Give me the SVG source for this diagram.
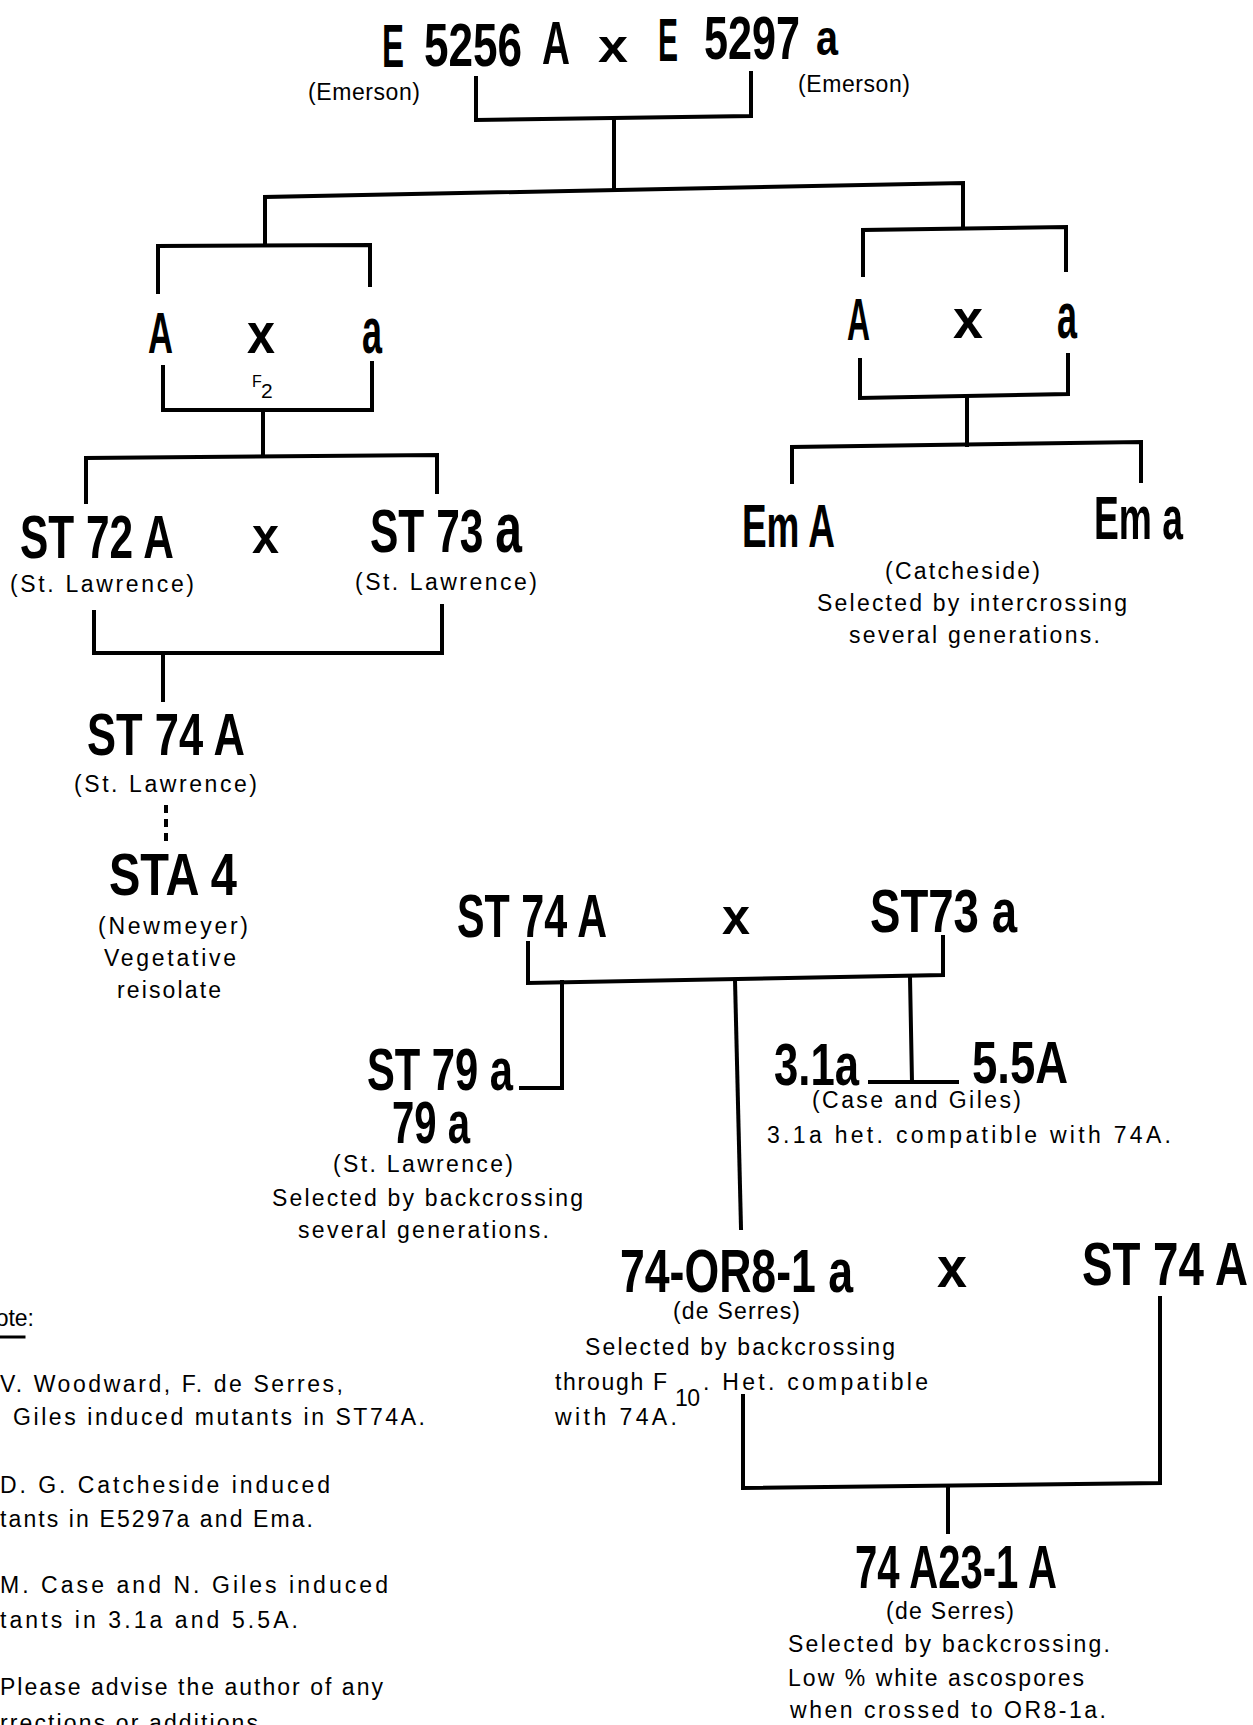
<svg xmlns="http://www.w3.org/2000/svg" width="1253" height="1725" viewBox="0 0 1253 1725">
<style>
.big{font-family:"Liberation Sans Narrow","Liberation Sans",Arial,sans-serif;font-weight:bold;font-size:62px;fill:#000}
.sm{font-family:"Liberation Sans",Arial,sans-serif;font-size:23px;fill:#000}
.ln{fill:none;stroke:#000;stroke-width:4;stroke-linecap:square;stroke-linejoin:miter}
.dot{fill:none;stroke:#000;stroke-width:4;stroke-dasharray:8 6}
</style>
<rect width="1253" height="1725" fill="#fff"/>
<g id="connectors">
<path class="ln" d="M476,78 V120 L751,116 V73"/>
<path class="ln" d="M614,119 V190"/>
<path class="ln" d="M265,244 V197 L963,183 V227"/>
<path class="ln" d="M158,292 V246 L370,245 V285"/>
<path class="ln" d="M863,275 V230 L1066,227 V270"/>
<path class="ln" d="M163,367 V410 H372 V363"/>
<path class="ln" d="M263,410 V455"/>
<path class="ln" d="M86,502 V458 L437,455 V492"/>
<path class="ln" d="M860,360 V398 L1068,394 V355"/>
<path class="ln" d="M967,396 V445"/>
<path class="ln" d="M792,482 V447 L1141,442 V481"/>
<path class="ln" d="M94,612 V653 H442 V606"/>
<path class="ln" d="M163,653 V700"/>
<path class="dot" d="M166,805 V845"/>
<path class="ln" d="M528,943 V983 L943,975 V937"/>
<path class="ln" d="M562,982 V1088 H521"/>
<path class="ln" d="M735,980 L741,1228"/>
<path class="ln" d="M910,977 L912,1082"/>
<path class="ln" d="M870,1082 H957"/>
<path class="ln" d="M743,1396 V1488 L1160,1483 V1298"/>
<path class="ln" d="M948,1487 V1532"/>
</g>
<g id="node-parents">
<text class="big" x="382" y="67" textLength="22" lengthAdjust="spacingAndGlyphs">E</text>
<text class="big" x="424" y="66" textLength="98" lengthAdjust="spacingAndGlyphs">5256</text>
<text class="big" x="542" y="64" textLength="28" lengthAdjust="spacingAndGlyphs">A</text>
<text class="big" x="598" y="62" textLength="30" lengthAdjust="spacingAndGlyphs" style="font-size:46px">x</text>
<text class="big" x="658" y="61" textLength="20" lengthAdjust="spacingAndGlyphs">E</text>
<text class="big" x="704" y="59" textLength="96" lengthAdjust="spacingAndGlyphs">5297</text>
<text class="big" x="816" y="55" textLength="22" lengthAdjust="spacingAndGlyphs" style="font-size:50px">a</text>
<text class="sm" x="308" y="100" textLength="112" lengthAdjust="spacing">(Emerson)</text>
<text class="sm" x="798" y="92" textLength="112" lengthAdjust="spacing">(Emerson)</text>
</g>
<g id="node-cross-left">
<text class="big" x="148" y="353" textLength="25" lengthAdjust="spacingAndGlyphs" style="font-size:57px">A</text>
<text class="big" x="247" y="353" textLength="28" lengthAdjust="spacingAndGlyphs" style="font-size:58px">x</text>
<text class="big" x="362" y="353" textLength="20" lengthAdjust="spacingAndGlyphs" style="font-size:64px">a</text>
<text class="sm" x="252" y="387" style="font-size:16px">F</text>
<text class="sm" x="261" y="398" style="font-size:21px">2</text>
</g>
<g id="node-cross-right">
<text class="big" x="847" y="340" textLength="23" lengthAdjust="spacingAndGlyphs" style="font-size:59px">A</text>
<text class="big" x="953" y="338" textLength="30" lengthAdjust="spacingAndGlyphs" style="font-size:56px">x</text>
<text class="big" x="1057" y="338" textLength="20" lengthAdjust="spacingAndGlyphs" style="font-size:64px">a</text>
</g>
<g id="node-st72a">
<text class="big" x="20" y="558" textLength="154" lengthAdjust="spacingAndGlyphs">ST 72 A</text>
<text class="sm" x="10" y="592" textLength="184" lengthAdjust="spacing">(St. Lawrence)</text>
</g>
<g id="node-cross-st">
<text class="big" x="252" y="553" textLength="27" lengthAdjust="spacingAndGlyphs" style="font-size:52px">x</text>
</g>
<g id="node-st73a">
<text class="big" x="370" y="552" textLength="152" lengthAdjust="spacingAndGlyphs">ST 73 <tspan style="font-size:70px">a</tspan></text>
<text class="sm" x="355" y="590" textLength="182" lengthAdjust="spacing">(St. Lawrence)</text>
</g>
<g id="node-ema-cap">
<text class="big" x="742" y="547" textLength="93" lengthAdjust="spacingAndGlyphs">Em A</text>
</g>
<g id="node-ema">
<text class="big" x="1094" y="539" textLength="89" lengthAdjust="spacingAndGlyphs">Em a</text>
</g>
<g id="node-catcheside">
<text class="sm" x="885" y="579" textLength="155" lengthAdjust="spacing">(Catcheside)</text>
<text class="sm" x="817" y="611" textLength="310" lengthAdjust="spacing">Selected by intercrossing</text>
<text class="sm" x="849" y="643" textLength="251" lengthAdjust="spacing">several generations.</text>
</g>
<g id="node-st74a">
<text class="big" x="87" y="755" textLength="158" lengthAdjust="spacingAndGlyphs" style="font-size:59px">ST 74 A</text>
<text class="sm" x="74" y="792" textLength="183" lengthAdjust="spacing">(St. Lawrence)</text>
</g>
<g id="node-sta4">
<text class="big" x="109" y="895" textLength="128" lengthAdjust="spacingAndGlyphs" style="font-size:59px">STA 4</text>
<text class="sm" x="98" y="934" textLength="150" lengthAdjust="spacing">(Newmeyer)</text>
<text class="sm" x="104" y="966" textLength="132" lengthAdjust="spacing">Vegetative</text>
<text class="sm" x="117" y="998" textLength="104" lengthAdjust="spacing">reisolate</text>
</g>
<g id="node-st74a-2">
<text class="big" x="457" y="937" textLength="150" lengthAdjust="spacingAndGlyphs">ST 74 A</text>
</g>
<g id="node-cross-2">
<text class="big" x="722" y="934" textLength="28" lengthAdjust="spacingAndGlyphs" style="font-size:52px">x</text>
</g>
<g id="node-st73a-2">
<text class="big" x="870" y="932" textLength="147" lengthAdjust="spacingAndGlyphs">ST73 a</text>
</g>
<g id="node-st79a">
<text class="big" x="367" y="1090" textLength="146" lengthAdjust="spacingAndGlyphs" style="font-size:60px">ST 79 a</text>
<text class="big" x="392" y="1143" textLength="78" lengthAdjust="spacingAndGlyphs" style="font-size:60px">79 a</text>
<text class="sm" x="333" y="1172" textLength="180" lengthAdjust="spacing">(St. Lawrence)</text>
<text class="sm" x="272" y="1206" textLength="311" lengthAdjust="spacing">Selected by backcrossing</text>
<text class="sm" x="298" y="1238" textLength="251" lengthAdjust="spacing">several generations.</text>
</g>
<g id="node-31a">
<text class="big" x="774" y="1085" textLength="85" lengthAdjust="spacingAndGlyphs" style="font-size:60px">3.1a</text>
</g>
<g id="node-55a">
<text class="big" x="972" y="1083" textLength="96" lengthAdjust="spacingAndGlyphs" style="font-size:60px">5.5A</text>
<text class="sm" x="812" y="1108" textLength="209" lengthAdjust="spacing">(Case and Giles)</text>
<text class="sm" x="767" y="1143" textLength="404" lengthAdjust="spacing">3.1a het. compatible with 74A.</text>
</g>
<g id="node-74or81a">
<text class="big" x="620" y="1292" textLength="233" lengthAdjust="spacingAndGlyphs">74-OR8-1 a</text>
<text class="sm" x="673" y="1319" textLength="127" lengthAdjust="spacing">(de Serres)</text>
<text class="sm" x="585" y="1355" textLength="310" lengthAdjust="spacing">Selected by backcrossing</text>
<text class="sm" x="555" y="1390" textLength="112" lengthAdjust="spacing">through F</text>
<text class="sm" x="675" y="1406" textLength="25" lengthAdjust="spacing">10</text>
<text class="sm" x="703" y="1390" textLength="225" lengthAdjust="spacing">. Het. compatible</text>
<text class="sm" x="555" y="1425" textLength="122" lengthAdjust="spacing">with 74A.</text>
</g>
<g id="node-cross-3">
<text class="big" x="937" y="1287" textLength="30" lengthAdjust="spacingAndGlyphs" style="font-size:58px">x</text>
</g>
<g id="node-st74a-3">
<text class="big" x="1082" y="1285" textLength="166" lengthAdjust="spacingAndGlyphs">ST 74 A</text>
</g>
<g id="node-74a231a">
<text class="big" x="855" y="1588" textLength="202" lengthAdjust="spacingAndGlyphs">74 A23-1 A</text>
<text class="sm" x="886" y="1619" textLength="128" lengthAdjust="spacing">(de Serres)</text>
<text class="sm" x="788" y="1652" textLength="322" lengthAdjust="spacing">Selected by backcrossing.</text>
<text class="sm" x="788" y="1686" textLength="296" lengthAdjust="spacing">Low % white ascospores</text>
<text class="sm" x="790" y="1718" textLength="316" lengthAdjust="spacing">when crossed to OR8-1a.</text>
</g>
<g id="note">
<text class="sm" x="34" y="1326" text-anchor="end">Note:</text>
<path class="ln" d="M0,1337 H24" style="stroke-width:3"/>
<text class="sm" x="0" y="1392" textLength="343" lengthAdjust="spacing">V. Woodward, F. de Serres,</text>
<text class="sm" x="13" y="1425" textLength="412" lengthAdjust="spacing">Giles induced mutants in ST74A.</text>
<text class="sm" x="0" y="1493" textLength="330" lengthAdjust="spacing">D. G. Catcheside induced</text>
<text class="sm" x="0" y="1527" textLength="313" lengthAdjust="spacing">tants in E5297a and Ema.</text>
<text class="sm" x="0" y="1593" textLength="388" lengthAdjust="spacing">M. Case and N. Giles induced</text>
<text class="sm" x="0" y="1628" textLength="298" lengthAdjust="spacing">tants in 3.1a and 5.5A.</text>
<text class="sm" x="0" y="1695" textLength="383" lengthAdjust="spacing">Please advise the author of any</text>
<text class="sm" x="0" y="1731" textLength="258" lengthAdjust="spacing">rrections or additions</text>
</g>
</svg>
